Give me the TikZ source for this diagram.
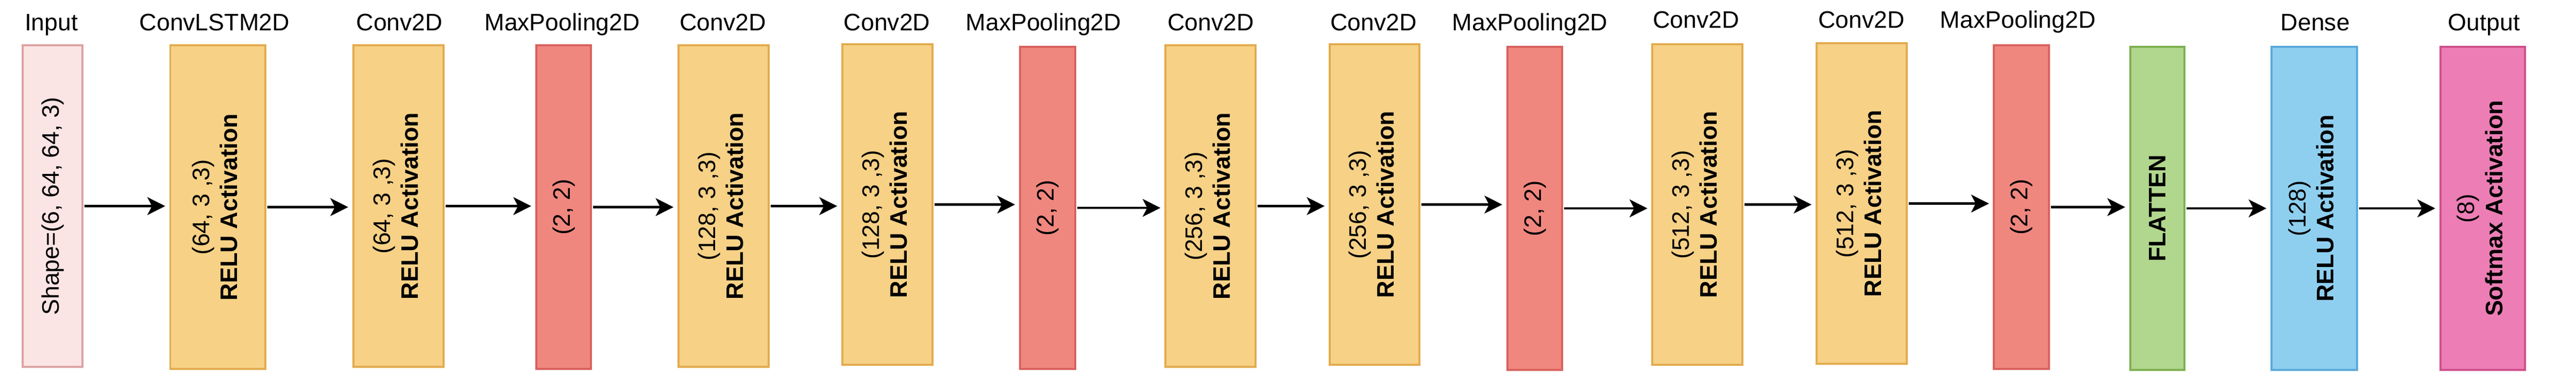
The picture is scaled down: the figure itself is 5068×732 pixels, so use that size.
\documentclass[tikz,border=0pt]{standalone}
\usepackage{fontspec}
\setmainfont{Liberation Sans}
\usetikzlibrary{arrows.meta}
\definecolor{inF}{HTML}{FBE4E4}
\definecolor{inD}{HTML}{DCA3A3}
\definecolor{cvF}{HTML}{F6D186}
\definecolor{cvD}{HTML}{E3AB4E}
\definecolor{plF}{HTML}{F0877F}
\definecolor{plD}{HTML}{D9615D}
\definecolor{flF}{HTML}{B1D68E}
\definecolor{flD}{HTML}{7DB04F}
\definecolor{dnF}{HTML}{8ECFEF}
\definecolor{dnD}{HTML}{5AA9DB}
\definecolor{otF}{HTML}{EC7EB5}
\definecolor{otD}{HTML}{CF4F8B}
\newcommand{\onel}[1]{\rotatebox{90}{#1}}
\newcommand{\tlines}[2]{\rotatebox{90}{\begin{tabular}{@{}c@{}}#1\\\textbf{#2}\end{tabular}}}
\begin{document}
\begin{tikzpicture}[x=1pt,y=-1pt,
  lbox/.style={rectangle, draw, line width=4pt, inner sep=0pt, font=\fontsize{47}{55}\selectfont},
  conv/.style={lbox, fill=cvF, draw=cvD},
  pool/.style={lbox, fill=plF, draw=plD, minimum width=108pt},
  lab/.style={anchor=base, inner sep=0pt, font=\fontsize{47}{55}\selectfont},
  arr/.style={line width=4.5pt, -{Stealth[length=35pt, width=35pt, inset=9pt]}, shorten >=8pt, shorten <=2pt}]
\useasboundingbox (0,0) rectangle (5068,732);
% boxes
\node[lbox, fill=inF, draw=inD, minimum width=117pt, minimum height=634pt] (n1) at (103.5,406) {\onel{Shape=(6, 64, 64, 3)}};
\node[conv, minimum width=187pt, minimum height=638pt] (n2) at (428.5,408) {\tlines{(64, 3 ,3)}{RELU Activation}};
\node[conv, minimum width=178pt, minimum height=634pt] (n3) at (784,406) {\tlines{(64, 3 ,3)}{RELU Activation}};
\node[pool, minimum height=638pt] (n4) at (1109,408) {\onel{(2, 2)}};
\node[conv, minimum width=177pt, minimum height=634pt] (n5) at (1423.5,406) {\tlines{(128, 3 ,3)}{RELU Activation}};
\node[conv, minimum width=178pt, minimum height=632pt] (n6) at (1746,403) {\tlines{(128, 3 ,3)}{RELU Activation}};
\node[pool, minimum height=635pt] (n7) at (2061,409.5) {\onel{(2, 2)}};
\node[conv, minimum width=177pt, minimum height=634pt] (n8) at (2381.5,406) {\tlines{(256, 3 ,3)}{RELU Activation}};
\node[conv, minimum width=176pt, minimum height=632pt] (n9) at (2704,403) {\tlines{(256, 3 ,3)}{RELU Activation}};
\node[pool, minimum height=637pt] (n10) at (3019.5,410.5) {\onel{(2, 2)}};
\node[conv, minimum width=177pt, minimum height=632pt] (n11) at (3339.5,403) {\tlines{(512, 3 ,3)}{RELU Activation}};
\node[conv, minimum width=177pt, minimum height=632pt] (n12) at (3662.5,401) {\tlines{(512, 3 ,3)}{RELU Activation}};
\node[pool, minimum height=638pt] (n13) at (3977,408) {\onel{(2, 2)}};
\node[lbox, fill=flF, draw=flD, minimum width=107pt, minimum height=637pt] (n14) at (4244.5,410.5) {\onel{\textbf{FLATTEN}}};
\node[lbox, fill=dnF, draw=dnD, minimum width=168pt, minimum height=637pt] (n15) at (4553,410.5) {\tlines{(128)}{RELU Activation}};
\node[lbox, fill=otF, draw=otD, minimum width=167pt, minimum height=637pt] (n16) at (4884.5,410.5) {\tlines{(8)}{Softmax Activation}};
% labels
\node[lab] (l1) at (101,60) {Input};
\node[lab] (l2) at (422,60) {ConvLSTM2D};
\node[lab] (l3) at (786,60) {Conv2D};
\node[lab] (l4) at (1106,60) {MaxPooling2D};
\node[lab] (l5) at (1422,60) {Conv2D};
\node[lab] (l6) at (1745,60) {Conv2D};
\node[lab] (l7) at (2053,60) {MaxPooling2D};
\node[lab] (l8) at (2382,60) {Conv2D};
\node[lab] (l9) at (2702,60) {Conv2D};
\node[lab] (l10) at (3010,60) {MaxPooling2D};
\node[lab] (l11) at (3337,55) {Conv2D};
\node[lab] (l12) at (3662,55) {Conv2D};
\node[lab] (l13) at (3970,55) {MaxPooling2D};
\node[lab] (l15) at (4555,60) {Dense};
\node[lab] (l16) at (4887,60) {Output};
% connectors (horizontal, from each box to the next)
\foreach \a/\b in {n1/n2,n2/n3,n3/n4,n4/n5,n5/n6,n6/n7,n7/n8,n8/n9,n9/n10,n10/n11,n11/n12,n12/n13,n13/n14,n14/n15,n15/n16}
  \draw[arr] (\a.east) -- (\a.east -| \b.west);
\end{tikzpicture}
\end{document}
